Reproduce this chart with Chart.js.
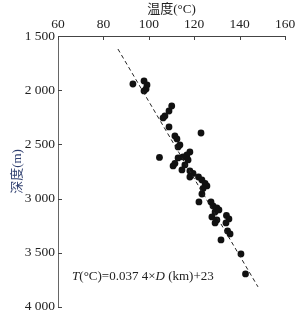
<!DOCTYPE html>
<html>
<head>
<meta charset="utf-8">
<script src="https://cdn.jsdelivr.net/npm/chart.js@4"></script>
<style>
  body { margin: 0; background: #fff; }
  canvas { display: block; }
</style>
</head>
<body>
<canvas id="tempChart" width="302" height="318"></canvas>
<script>
// measured temperature (°C) vs depth (m)
const temps = [93.0, 97.9, 99.2, 98.8, 97.9, 110.1, 108.9, 107.1, 106.3, 108.9,
  123.0, 111.5, 112.4, 113.7, 112.9, 104.7, 118.1, 116.8, 115.1, 112.9,
  117.3, 111.5, 110.7, 115.9, 114.6, 118.1, 119.5, 118.1, 121.9, 123.4,
  124.8, 125.6, 123.9, 123.4, 122.1, 127.4, 128.3, 130.0, 129.2, 130.9,
  127.8, 130.0, 129.2, 134.2, 135.3, 134.0, 134.7, 135.8, 131.8, 140.6, 142.6];
const depths = [1943, 1915, 1952, 1989, 2007, 2146, 2192, 2238, 2256, 2339,
  2395, 2422, 2450, 2506, 2524, 2621, 2570, 2598, 2616, 2625,
  2644, 2676, 2699, 2690, 2736, 2745, 2768, 2801, 2801, 2828,
  2861, 2884, 2907, 2958, 3031, 3031, 3068, 3087, 3124, 3105,
  3170, 3197, 3225, 3156, 3188, 3225, 3299, 3327, 3382, 3511, 3696];

// dashed trend line ends
const fitT = [86.4, 148.1];
const fitD = [1620, 3815];

const xTicks = [60, 80, 100, 120, 140, 160];
const yTicks = [1500, 2000, 2500, 3000, 3500, 4000];

const labelX = 66.2, labelY = 3723; // anchor of the formula text

const serif = "'Liberation Serif', 'Times New Roman', serif";
const cjk = "'Liberation Serif', 'Noto Sans CJK SC', serif";
const inkColor = '#222';

function fmtDepth(v) {
  const s = String(v);
  return s.length > 3 ? s.slice(0, s.length - 3) + ' ' + s.slice(-3) : s;
}

// small ticks pointing into the plot, plus the formula text
const extras = {
  id: 'extras',
  afterDraw(chart) {
    const c = chart.ctx;
    const xs = chart.scales.x, ys = chart.scales.y;
    const top = chart.chartArea.top, left = chart.chartArea.left;
    c.save();
    c.strokeStyle = '#444';
    c.lineWidth = 1;
    c.beginPath();
    xTicks.forEach(v => {
      const px = Math.round(xs.getPixelForValue(v)) + 0.5;
      c.moveTo(px, top); c.lineTo(px, top + 4);
    });
    yTicks.forEach(v => {
      const py = Math.round(ys.getPixelForValue(v)) + 0.5;
      c.moveTo(left, py); c.lineTo(left + 4, py);
    });
    c.stroke();

    const parts = [
      ['T', true], ['(°C)=0.037 4×', false], ['D', true], [' (km)+23', false]
    ];
    let x = xs.getPixelForValue(labelX);
    const y = ys.getPixelForValue(labelY);
    c.fillStyle = inkColor;
    c.textBaseline = 'middle';
    c.textAlign = 'left';
    parts.forEach(([txt, it]) => {
      c.font = (it ? 'italic ' : '') + '13px ' + serif;
      c.fillText(txt, x, y);
      x += c.measureText(txt).width;
    });
    c.restore();
  }
};

new Chart(document.getElementById('tempChart').getContext('2d'), {
  type: 'scatter',
  data: {
    datasets: [
      {
        type: 'line',
        data: fitT.map((t, i) => ({ x: t, y: fitD[i] })),
        borderColor: '#222',
        borderWidth: 1,
        borderDash: [4, 3],
        pointRadius: 0,
        fill: false
      },
      {
        data: temps.map((t, i) => ({ x: t, y: depths[i] })),
        backgroundColor: '#111',
        borderWidth: 0,
        pointRadius: 3.4
      }
    ]
  },
  options: {
    responsive: false,
    animation: false,
    layout: { padding: { left: 0, right: 17, top: 0, bottom: 11 } },
    plugins: { legend: { display: false }, tooltip: { enabled: false } },
    scales: {
      x: {
        type: 'linear',
        position: 'top',
        min: 60, max: 160,
        afterBuildTicks: s => { s.ticks = xTicks.map(v => ({ value: v })); },
        ticks: { padding: 3, color: inkColor, font: { family: serif, size: 13.5 } },
        grid: { display: false, drawTicks: false },
        border: { color: '#444', width: 1 },
        title: { display: true, text: '温度(°C)', color: inkColor,
                 font: { family: cjk, size: 13 }, padding: { top: 2, bottom: 0 } },
        afterFit: s => { s.height = 36; }
      },
      y: {
        type: 'linear',
        reverse: true,
        min: 1500, max: 4000,
        afterBuildTicks: s => { s.ticks = yTicks.map(v => ({ value: v })); },
        ticks: { padding: 3, color: inkColor, font: { family: serif, size: 13.5 },
                 callback: v => fmtDepth(v) },
        grid: { display: false, drawTicks: false },
        border: { color: '#666', width: 1 },
        title: { display: true, text: '深度(m)', color: '#2f3f6f',
                 font: { family: cjk, size: 13 }, padding: { top: 10, bottom: 0 } },
        afterFit: s => { s.width = 58; }
      }
    }
  },
  plugins: [extras]
});
</script>
</body>
</html>
